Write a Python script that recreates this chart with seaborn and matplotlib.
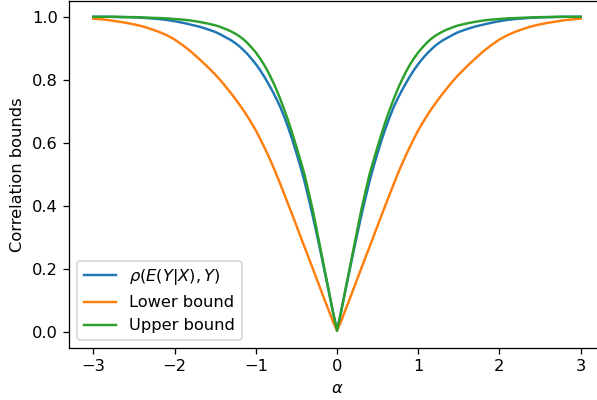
import numpy as np
import pandas as pd
import matplotlib
matplotlib.use("Agg")
import matplotlib.pyplot as plt
import seaborn as sns

# values for alpha >= 0 (curves are symmetric in alpha)
alpha_pos = [0.0, 0.05, 0.1, 0.15, 0.2, 0.25, 0.3, 0.35, 0.4, 0.45, 0.5,
             0.55, 0.6, 0.65, 0.7, 0.75, 0.8, 0.85, 0.9, 0.95, 1.0,
             1.05, 1.1, 1.15, 1.2, 1.25, 1.3, 1.35, 1.4, 1.45, 1.5,
             1.6, 1.7, 1.8, 1.9, 2.0, 2.1, 2.2, 2.3, 2.4, 2.5,
             2.6, 2.7, 2.8, 2.9, 3.0]

rho_pos = [0.005, 0.064, 0.128, 0.19, 0.252, 0.312, 0.37, 0.425, 0.478, 0.525, 0.568,
           0.61, 0.648, 0.683, 0.715, 0.742, 0.767, 0.79, 0.812, 0.832, 0.85,
           0.866, 0.881, 0.894, 0.906, 0.916, 0.925, 0.932, 0.939, 0.946, 0.952,
           0.961, 0.969, 0.975, 0.981, 0.986, 0.99, 0.993, 0.995, 0.997, 0.998,
           0.999, 0.999, 1.0, 1.0, 1.0]

lower_pos = [0.005, 0.034, 0.068, 0.101, 0.135, 0.169, 0.203, 0.237, 0.27, 0.304, 0.338,
             0.372, 0.405, 0.438, 0.471, 0.503, 0.533, 0.562, 0.589, 0.615, 0.64,
             0.662, 0.683, 0.703, 0.721, 0.739, 0.756, 0.772, 0.788, 0.803, 0.817,
             0.843, 0.867, 0.89, 0.91, 0.928, 0.942, 0.953, 0.962, 0.97, 0.976,
             0.981, 0.985, 0.989, 0.992, 0.994]

upper_pos = [0.005, 0.065, 0.13, 0.195, 0.26, 0.325, 0.389, 0.445, 0.50, 0.545, 0.588,
             0.63, 0.67, 0.706, 0.74, 0.772, 0.80, 0.826, 0.849, 0.869, 0.887,
             0.902, 0.916, 0.928, 0.938, 0.946, 0.953, 0.959, 0.964, 0.969, 0.973,
             0.979, 0.984, 0.988, 0.991, 0.993, 0.995, 0.996, 0.997, 0.998, 0.999,
             0.999, 1.0, 1.0, 1.0, 1.0]

# mirror to negative alpha
alpha = [-a for a in alpha_pos[::-1]] + alpha_pos[1:]
rho = rho_pos[::-1] + rho_pos[1:]
lower = lower_pos[::-1] + lower_pos[1:]
upper = upper_pos[::-1] + upper_pos[1:]

dpi = 117
fig = plt.figure(figsize=(597 / dpi, 400 / dpi), dpi=dpi)
ax = fig.add_axes([69 / 597, 52 / 400, 536 / 597, 347 / 400])

sns.lineplot(x=alpha, y=rho, ax=ax, color="C0", label=r"$\rho(E(Y|X),Y)$", estimator=None)
sns.lineplot(x=alpha, y=lower, ax=ax, color="C1", label="Lower bound", estimator=None)
sns.lineplot(x=alpha, y=upper, ax=ax, color="C2", label="Upper bound", estimator=None)

ax.set_xlim(-3.3, 3.3)
ax.set_ylim(-0.05, 1.05)
ax.set_xlabel(r"$\alpha$")
ax.set_ylabel("Correlation bounds")
ax.legend(loc="lower left")

fig.savefig("out.png", dpi=dpi)
